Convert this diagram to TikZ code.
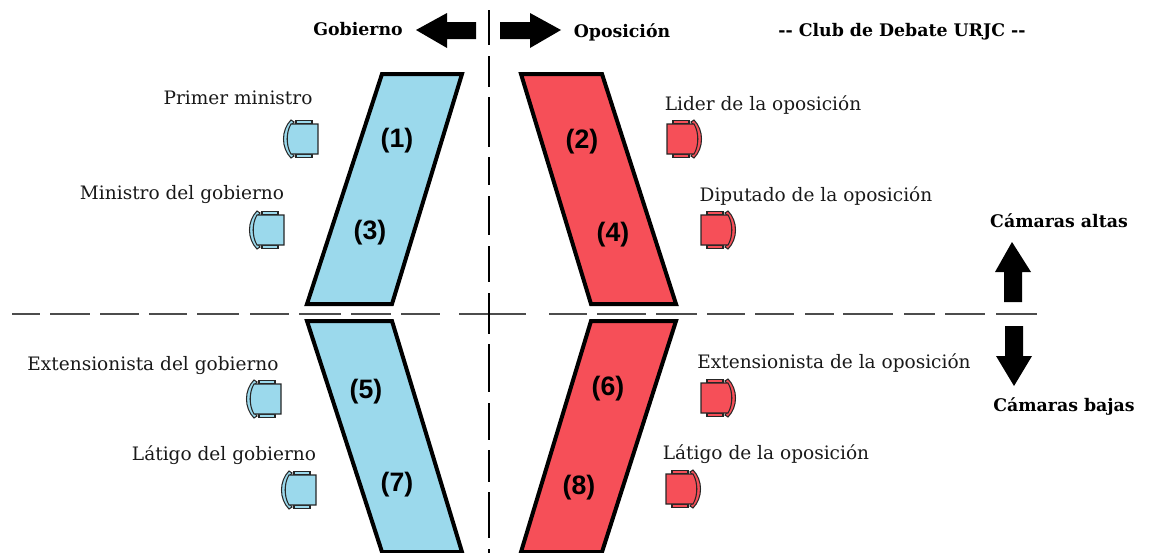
\documentclass[tikz,border=0pt]{standalone}
\usepackage{fontspec}
\setmainfont{DejaVu Serif}
\newfontfamily\numfont{Liberation Sans}
\definecolor{gob}{HTML}{9BD9EC}
\definecolor{opo}{HTML}{F64F58}
\tikzset{
  x=0.75pt,y=-0.75pt,
  bench/.style={draw=black,line width=3pt,line join=miter},
  role/.style={inner sep=0pt,font=\fontsize{13.9pt}{16pt}\selectfont,text=black!90},
  head/.style={inner sep=0pt,font=\fontsize{13pt}{15pt}\selectfont\bfseries},
  seatno/.style={inner sep=0pt,font=\fontsize{20pt}{23pt}\selectfont\numfont\bfseries},
  bigarrow/.style={fill=black,draw=none},
  guide/.style={draw=black!70,line width=0.9pt},
  pics/chair/.style={code={
    \begin{scope}[draw=black!85,line width=0.8pt,fill=#1]
      \filldraw (-22,-18.5) rectangle (-6,-15);
      \filldraw (-22,15) rectangle (-6,18.5);
      \filldraw (-27,-19) .. controls (-37,-9) and (-37,9) .. (-27,19)
        -- (-24,17) .. controls (-33,8) and (-33,-8) .. (-24,-17) -- cycle;
      \filldraw (0,-15) -- (-27,-15) .. controls (-32,-7) and (-32,7) .. (-27,15) -- (0,15) -- cycle;
    \end{scope}
  }},
}
\begin{document}
\begin{tikzpicture}
\useasboundingbox (0,0) rectangle (1150,553);
% guides
\foreach \a/\b in {12/40,50/90,100/139,149/187,197/239,250/289,299/341,351/391,401/440,459/526,549/587,597/646,656/697,707/745,755/794,805/834,843/893,904/935,945/985,996/1037}
  \draw[guide] (\a,314) -- (\b,314);
\foreach \a/\b in {10/45,56/87,97/147,157/185,196/235,246/282,293/334,344/392,403/440,450/482,492/538,549/553}
  \draw[guide,draw=black,line width=0.8pt] (489,\a) -- (489,\b);
% benches
\draw[bench,fill=gob] (382,74) -- (462,74) -- (392,304) -- (307,304) -- cycle;
\draw[bench,fill=opo] (521,74) -- (602,74) -- (676,304) -- (591,304) -- cycle;
\draw[bench,fill=gob] (307,321) -- (392,321) -- (462,552) -- (382,552) -- cycle;
\draw[bench,fill=opo] (591,321) -- (676,321) -- (602,552) -- (521,552) -- cycle;
% arrows
\fill[bigarrow] (416,30) -- (447,13) -- (447,22) -- (476,22) -- (476,39) -- (447,39) -- (447,48) -- cycle;
\fill[bigarrow] (561,30) -- (530,13) -- (530,22) -- (500,22) -- (500,39) -- (530,39) -- (530,48) -- cycle;
\fill[bigarrow] (1012,242) -- (995,272) -- (1004,272) -- (1004,302) -- (1022,302) -- (1022,272) -- (1031,272) -- cycle;
\fill[bigarrow] (1014,386) -- (996,356) -- (1005,356) -- (1005,326) -- (1023,326) -- (1023,356) -- (1032,356) -- cycle;
% chairs
\pic at (318,139) {chair=gob};
\pic at (284,230) {chair=gob};
\pic at (281,399) {chair=gob};
\pic at (316,490) {chair=gob};
\pic[xscale=-1] at (667,139) {chair=opo};
\pic[xscale=-1] at (701,230) {chair=opo};
\pic[xscale=-1] at (701,398) {chair=opo};
\pic[xscale=-1] at (666,489) {chair=opo};
% numbers
\node[seatno] (n1) at (397,141) {(1)};
\node[seatno] (n2) at (582,142) {(2)};
\node[seatno] (n3) at (370,233) {(3)};
\node[seatno] (n4) at (613,235) {(4)};
\node[seatno] (n5) at (366,392) {(5)};
\node[seatno] (n6) at (608,389) {(6)};
\node[seatno] (n7) at (397,485) {(7)};
\node[seatno] (n8) at (579,488) {(8)};
% roles
\node[role] (pm) at (238,98) {Primer ministro};
\node[role] (mg) at (182,195) {Ministro del gobierno};
\node[role] (eg) at (153,366) {Extensionista del gobierno};
\node[role] (lg) at (224,455) {Látigo del gobierno};
\node[role] (lo) at (763,105) {Lider de la oposición};
\node[role] (dO) at (816,196) {Diputado de la oposición};
\node[role] (eo) at (834,363) {Extensionista de la oposición};
\node[role] (lag) at (766,454) {Látigo de la oposición};
% heads
\node[head] (gobh) at (358,29) {Gobierno};
\node[head] (oph) at (622,32) {Oposición};
\node[head] (club) at (902,32) {-{}- Club de Debate URJC -{}-};
\node[head] (alta) at (1059,221) {Cámaras altas};
\node[head] (baja) at (1064,406) {Cámaras bajas};
\end{tikzpicture}
\end{document}
